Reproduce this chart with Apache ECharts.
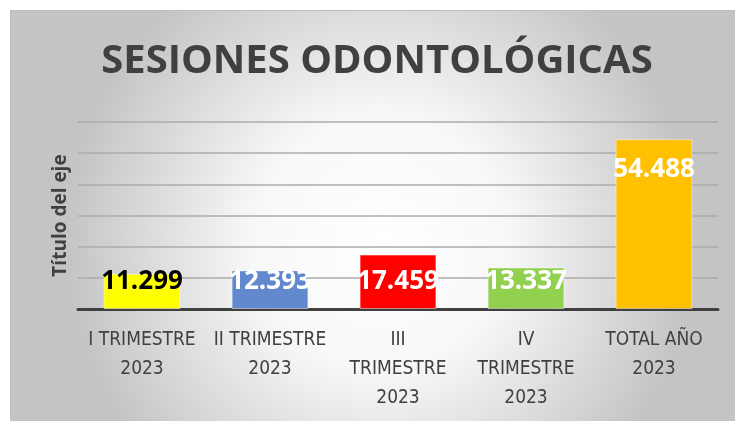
<!DOCTYPE html>
<html>
<head>
<meta charset="utf-8">
<script src="https://cdn.jsdelivr.net/npm/echarts@6/dist/echarts.min.js"></script>
<style>
  html, body { margin: 0; padding: 0; background: #fff; }
  #chart { width: 735px; height: 421px; }
</style>
</head>
<body>
<div id="chart"></div>
<script>
// datos del gráfico
const categories = [
  "I TRIMESTRE\n2023",
  "II TRIMESTRE\n2023",
  "III\nTRIMESTRE\n2023",
  "IV\nTRIMESTRE\n2023",
  "TOTAL AÑO\n2023"
];
const sesiones = [11299, 12393, 17459, 13337, 54488];
const barColors = ["#FFFF00", "#6289CE", "#FF0000", "#92D050", "#FFC000"];
const labelColors = ["#000000", "#ffffff", "#ffffff", "#ffffff", "#ffffff"];

const chart = echarts.init(document.getElementById("chart"));

// formato con punto de miles
function fmt(v) {
  return String(v).replace(/\B(?=(\d{3})+(?!\d))/g, ".");
}

const seriesData = sesiones.map(function (v, i) {
  const big = v > 40000;
  return {
    value: v,
    itemStyle: { color: barColors[i] },
    label: {
      color: labelColors[i],
      position: big ? "insideTop" : "insideBottom",
      distance: big ? 17 : 14
    }
  };
});

chart.setOption({
  animation: false,
  graphic: [
    {
      type: "rect",
      z: -10,
      shape: { x: 10.5, y: 10.5, width: 740, height: 420 },
      style: {
        fill: new echarts.graphic.RadialGradient(0.5, 0.55, 0.75, [
          { offset: 0, color: "#ffffff" },
          { offset: 0.4, color: "#f8f8f8" },
          { offset: 1, color: "#c4c4c4" }
        ]),
        stroke: "#bdbdbd",
        lineWidth: 1
      }
    }
  ],
  title: {
    text: "SESIONES ODONTOLÓGICAS",
    left: 372,
    top: 37,
    textAlign: "center",
    textStyle: {
      fontFamily: "Open Sans",
      fontWeight: "bold",
      fontSize: 40,
      color: "#404040"
    }
  },
  grid: {
    left: 78,
    right: 17,
    top: 122,
    bottom: 112
  },
  xAxis: {
    type: "category",
    data: categories,
    axisTick: { show: false },
    axisLine: {
      lineStyle: { color: "#404040", width: 3 }
    },
    axisLabel: {
      interval: 0,
      margin: 17,
      fontFamily: "DejaVu Sans Condensed, Roboto, sans-serif",
      fontSize: 19,
      lineHeight: 29,
      color: "#404040"
    }
  },
  yAxis: {
    type: "value",
    min: 0,
    max: 60000,
    interval: 10000,
    name: "Título del eje",
    nameLocation: "middle",
    nameGap: 8,
    nameTextStyle: {
      fontFamily: "Open Sans",
      fontWeight: "bold",
      fontSize: 19,
      color: "#404040"
    },
    axisLabel: { show: false },
    axisLine: { show: false },
    axisTick: { show: false },
    splitLine: {
      lineStyle: { color: "#ababab", width: 1.5 }
    }
  },
  series: [
    {
      name: "Sesiones",
      type: "bar",
      barWidth: "60%",
      data: seriesData,
      itemStyle: {
        borderColor: "rgba(255,255,255,0.45)",
        borderWidth: 1
      },
      label: {
        show: true,
        formatter: function (p) { return fmt(p.value); },
        fontFamily: "Open Sans",
        fontWeight: "bold",
        fontSize: 26
      }
    }
  ]
});
</script>
</body>
</html>
